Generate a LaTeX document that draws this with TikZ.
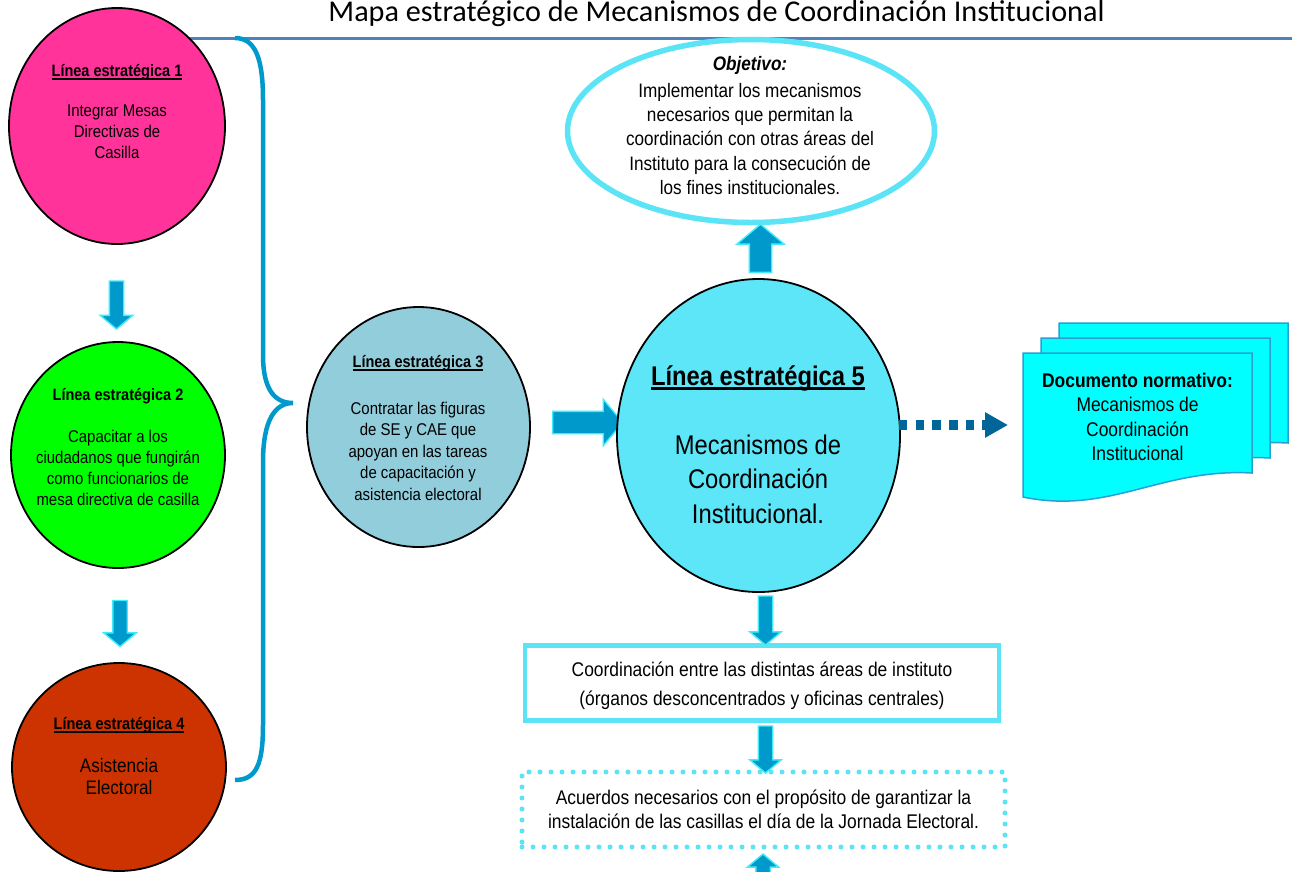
\documentclass[tikz,border=0pt]{standalone}
\usepackage{fontspec}
\setmainfont{Liberation Sans}[FakeStretch=0.88]
\newfontfamily\titlefont{Carlito}
\usetikzlibrary{shapes.geometric,shapes.arrows,arrows.meta,calc}

\definecolor{pinkfill}{RGB}{255,51,153}
\definecolor{greenfill}{RGB}{0,255,0}
\definecolor{brickfill}{RGB}{204,51,0}
\definecolor{skyfill}{RGB}{146,205,220}
\definecolor{cyanfill}{RGB}{92,230,247}
\definecolor{cyanedge}{RGB}{90,228,246}
\definecolor{arrowfill}{RGB}{0,153,204}
\definecolor{arrowedge}{RGB}{64,236,250}
\definecolor{bracecol}{RGB}{0,153,204}
\definecolor{rulecol}{RGB}{79,129,189}
\definecolor{navyarrow}{RGB}{0,102,153}
\definecolor{docfill}{RGB}{0,255,255}
\definecolor{docedge}{RGB}{40,160,210}

% underline drawn as a rule just below the baseline
\newcommand\undertext[1]{\setbox0=\hbox{#1}\rlap{\rule[-0.2em]{\wd0}{0.11em}}\box0}

\tikzset{
  linecircle/.style={ellipse, draw=black, line width=1.8pt, inner sep=0pt},
  % block arrow: #1 shaft width, #2 head width
  blockarrow/.style 2 args={single arrow, fill=arrowfill, draw=arrowedge, line width=1.4pt,
    inner xsep=0pt, inner ysep=#1/2, minimum width=#2,
    single arrow head extend={(#2-#1)/2}, single arrow tip angle=100, single arrow head indent=0pt},
  headtxt/.style={inner sep=0pt, font=\bfseries\fontsize{16.5}{20}\selectfont},
  bodytxt/.style={inner sep=0pt, align=center, font=\fontsize{17}{21}\selectfont},
  docshape/.style={fill=docfill, draw=docedge, line width=1.5pt},
  dotarrow/.style={navyarrow, line width=10pt, dash pattern=on 8.5pt off 8.2pt,
    -{Triangle[length=23pt,width=24pt]}},
}

\begin{document}
\begin{tikzpicture}[x=1pt,y=-1pt]
\useasboundingbox (0,0) rectangle (1292,871);
\clip (0,0) rectangle (1292,871);
\fill[white] (0,0) rectangle (1292,871);

% title and rule
\node[font=\titlefont\fontsize{30.2}{34}\selectfont, anchor=base, inner sep=0pt] (title)
  at (716.5,21.5) {Mapa estratégico de Mecanismos de Coordinación Institucional};
\draw[rulecol, line width=2.5pt] (150,38.5) -- (1292,38.5);

% brace grouping the left column
\draw[bracecol, line width=4.5pt]
  (235,38) .. controls (256,38) and (263,60) .. (263,100) -- (263,355)
  .. controls (263,390) and (275,403) .. (293,403)
  .. controls (275,403) and (263,420) .. (263,462) -- (263,725)
  .. controls (263,765) and (256,780) .. (235,780);

% left column
\node[linecircle, fill=pinkfill, minimum width=216pt, minimum height=236pt] (le1) at (117,126) {};
\node[headtxt] (le1h) at (117,72) {\undertext{Línea estratégica 1}};
\node[bodytxt] (le1b) at (117,132) {Integrar Mesas\\Directivas de\\Casilla};

\node[linecircle, fill=greenfill, minimum width=214pt, minimum height=226pt] (le2) at (118,455) {};
\node[headtxt] (le2h) at (118,396) {Línea estratégica 2};
\node[bodytxt] (le2b) at (118,468) {Capacitar a los\\ciudadanos que fungirán\\como funcionarios de\\mesa directiva de casilla};

\node[linecircle, fill=brickfill, minimum width=214pt, minimum height=208pt] (le4) at (119,767) {};
\node[headtxt] (le4h) at (119,725) {\undertext{Línea estratégica 4}};
\node[bodytxt, font=\fontsize{19.5}{22}\selectfont] (le4b) at (119,777) {Asistencia\\Electoral};

\node[blockarrow={13pt}{31pt}, minimum height=48pt, rotate=-90] (a12) at (116.5,302) {};
\node[blockarrow={13pt}{31pt}, minimum height=46pt, rotate=-90] (a24) at (120,620.5) {};

% line 3
\node[linecircle, fill=skyfill, minimum width=223pt, minimum height=240pt] (le3) at (418.5,427) {};
\node[headtxt] (le3h) at (418,363) {\undertext{Línea estratégica 3}};
\node[bodytxt, font=\fontsize{17}{21.5}\selectfont] (le3b) at (418,451)
  {Contratar las figuras\\de SE y CAE que\\apoyan en las tareas\\de capacitación y\\asistencia electoral};

\node[blockarrow={21pt}{45pt}, minimum height=70pt] (a35) at (583,422.5) {};

% central line 5
\node[linecircle, fill=cyanfill, minimum width=283pt, minimum height=313pt] (le5) at (758.5,435.5) {};
\node[headtxt, font=\bfseries\fontsize{27}{32}\selectfont] (le5h) at (758,378) {\undertext{Línea estratégica 5}};
\node[bodytxt, font=\fontsize{27}{34.5}\selectfont] (le5b) at (758,479) {Mecanismos de\\Coordinación\\Institucional.};

% objective
\node[ellipse, draw=cyanedge, line width=5.5pt, fill=white, minimum width=367pt, minimum height=183pt, inner sep=0pt] (obj) at (751,131) {};
\node[headtxt, font=\bfseries\itshape\fontsize{19.5}{23}\selectfont] (objh) at (750,65) {Objetivo:};
\node[bodytxt, font=\fontsize{19.5}{24.3}\selectfont] (objb) at (750,139)
  {Implementar los mecanismos\\necesarios que permitan la\\coordinación con otras áreas del\\Instituto para la consecución de\\los fines institucionales.};
\node[blockarrow={21pt}{46pt}, minimum height=48pt, rotate=90] (a5o) at (760.5,253) {};

% normative document stack
\foreach \dx/\dy in {36/-30, 18/-15, 0/0}{
  \draw[docshape, shift={(\dx,\dy)}] (1023,353) -- (1252,353) -- (1252,473)
    .. controls (1160,468) and (1110,515) .. (1023,497) -- cycle;
}
\node[bodytxt, font=\fontsize{19.8}{24.3}\selectfont] (doc) at (1137.5,417)
  {\textbf{Documento normativo:}\\Mecanismos de\\Coordinación\\Institucional};
\coordinate (docin) at (1008,425);
\draw[dotarrow] ([xshift=-2pt]le5.east |- docin) -- (docin);

% coordination box
\node[draw=cyanedge, line width=4.5pt, fill=white, minimum width=474pt, minimum height=75pt, inner sep=0pt] (coord) at (762,683) {};
\node[bodytxt, font=\fontsize{19.8}{29}\selectfont] (coordt) at (762,686)
  {Coordinación entre las distintas áreas de instituto\\(órganos desconcentrados y oficinas centrales)};

% agreements box, dotted border
\node[draw=cyanedge, line width=5pt, dash pattern=on 0pt off 11pt, line cap=round, fill=white,
  minimum width=483pt, minimum height=75pt, inner sep=0pt,
  align=center, font=\fontsize{19.8}{23.5}\selectfont] (agree) at (763.5,809.5)
  {Acuerdos necesarios con el propósito de garantizar la\\instalación de las casillas el día de la Jornada Electoral.};

\node[blockarrow={13pt}{30pt}, minimum height=49pt, rotate=-90] (a5c) at (765.5,617.5) {};
\node[blockarrow={13pt}{30pt}, minimum height=47pt, rotate=-90] (aca) at (765.5,746.5) {};
\node[blockarrow={13pt}{30pt}, minimum height=40pt, rotate=90] (aup) at (763,877) {};
\end{tikzpicture}
\end{document}
